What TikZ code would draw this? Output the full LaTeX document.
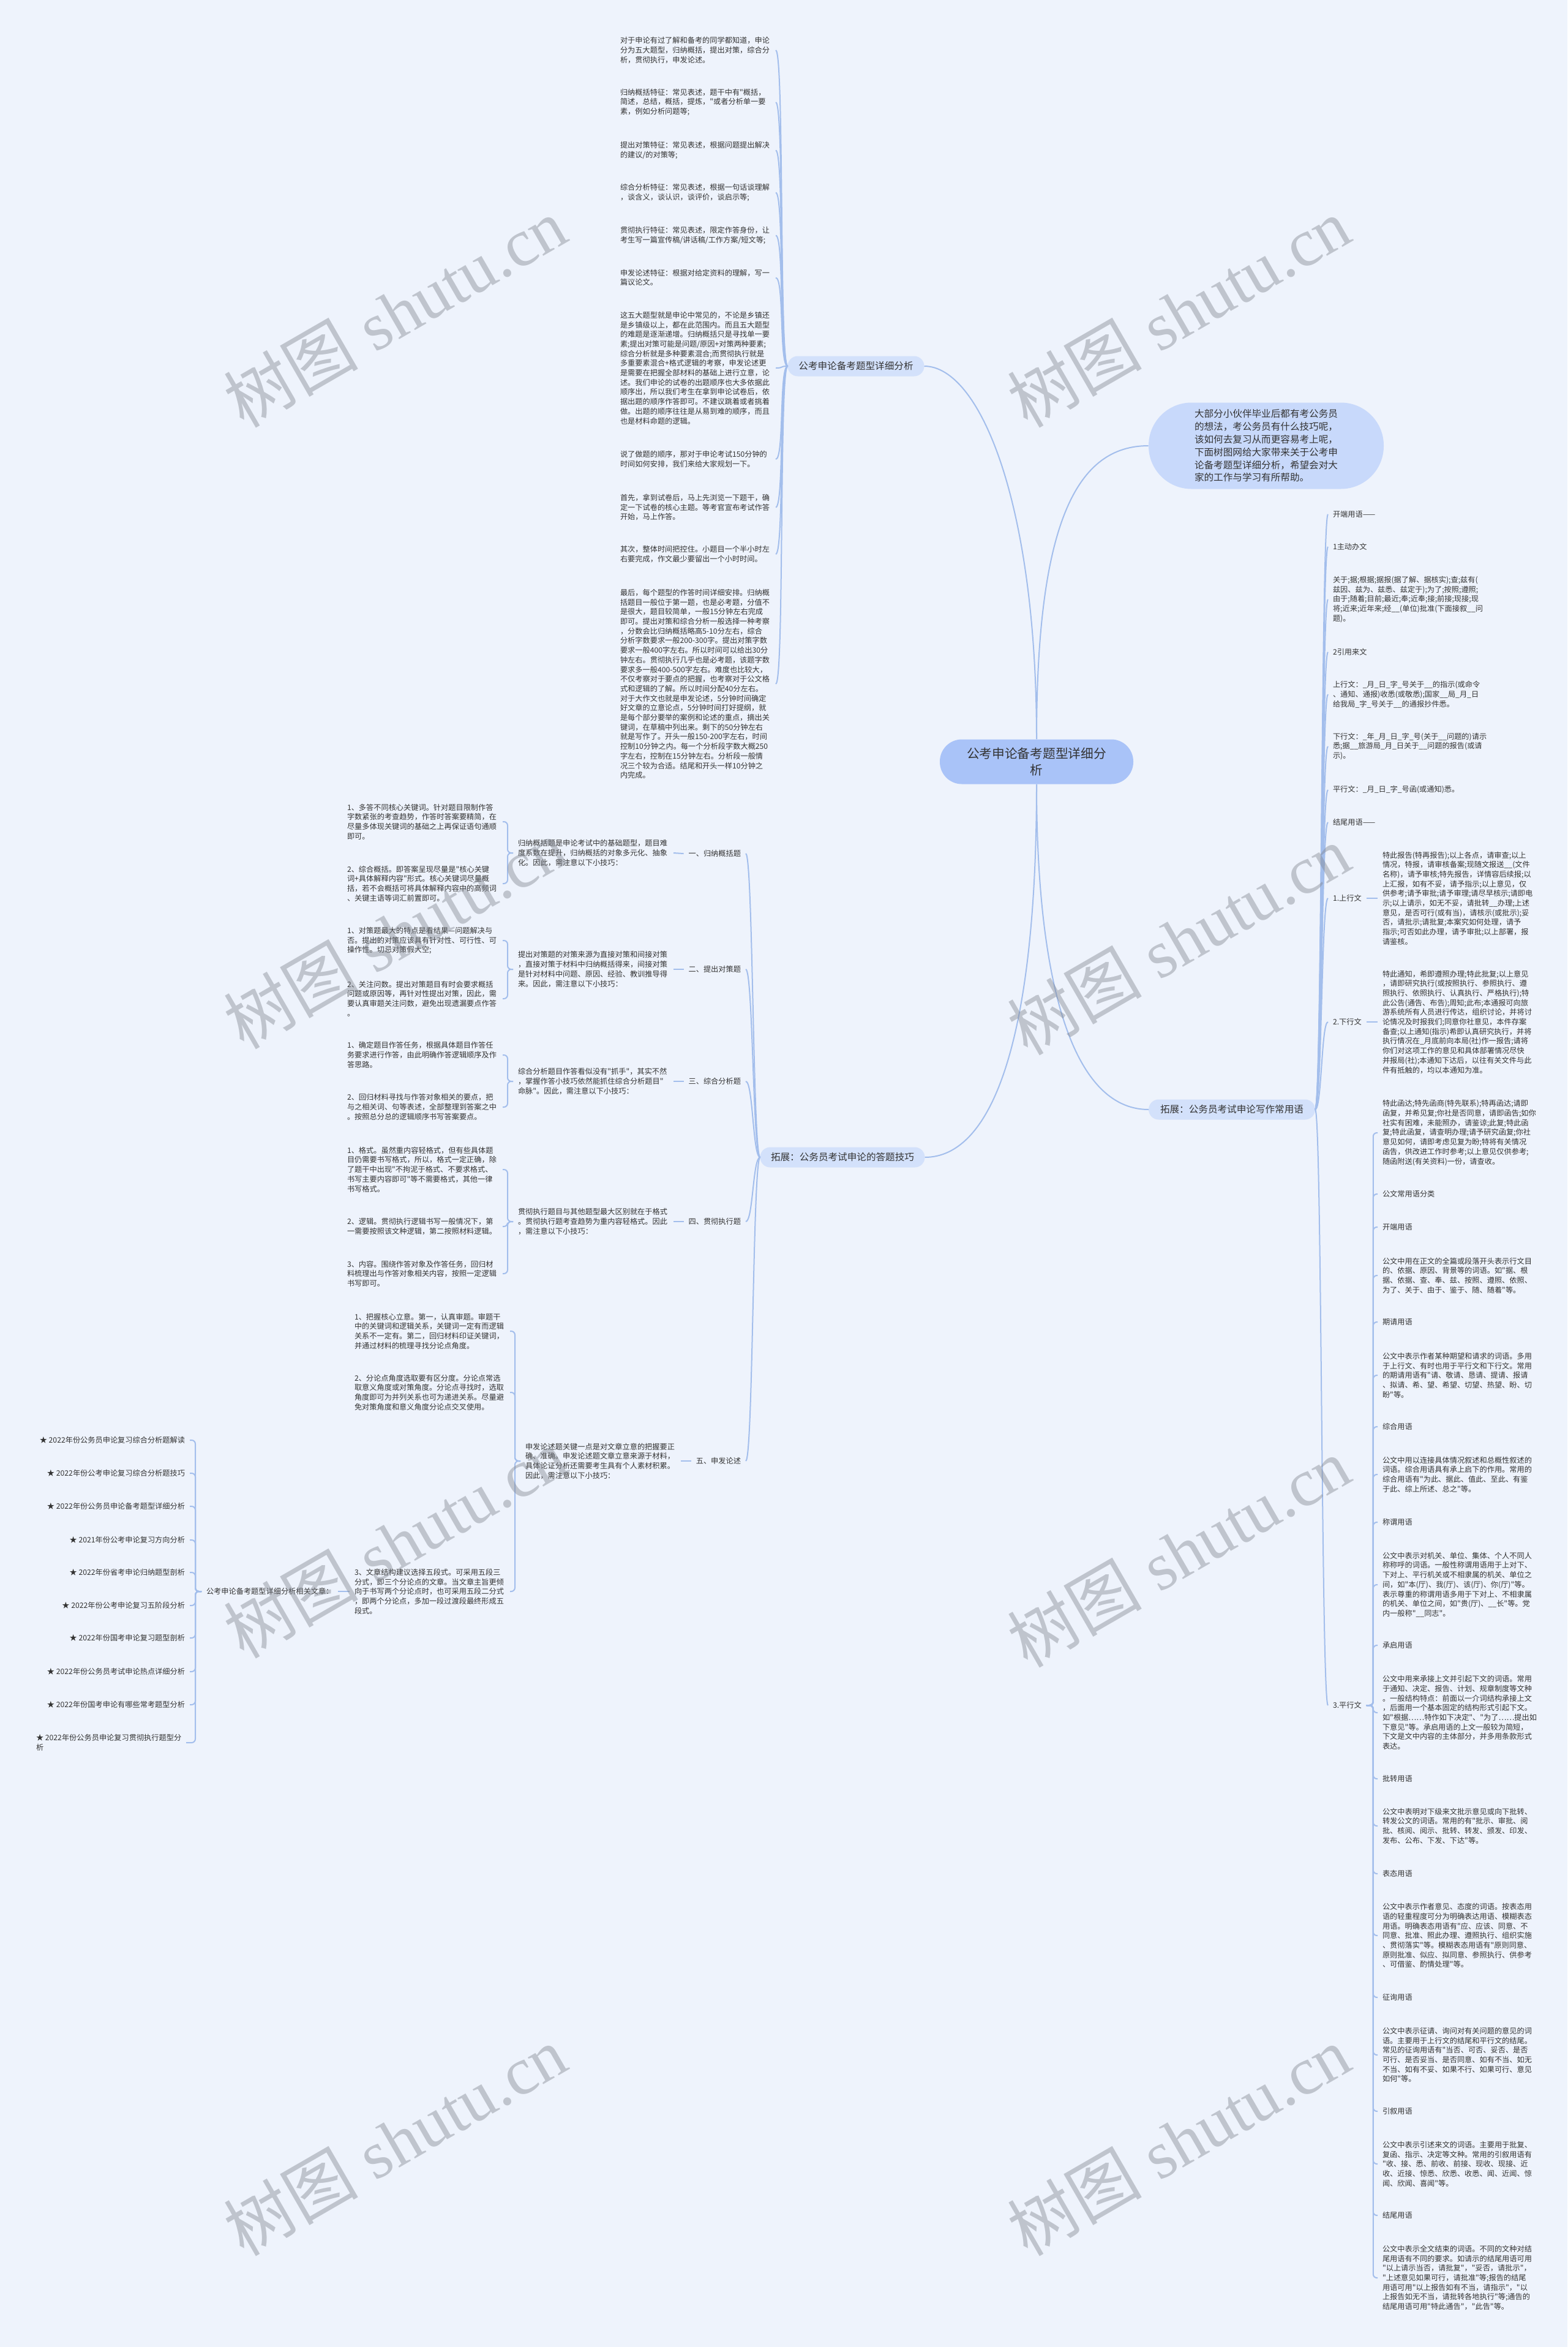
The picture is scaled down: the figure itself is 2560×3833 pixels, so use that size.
\documentclass[tikz,border=0pt]{standalone}
\usepackage{fontspec}
\newfontfamily\cjk{Noto Sans CJK SC}
\newfontfamily\wmserif{Liberation Serif}
\definecolor{bgc}{HTML}{EEF3FC}
\definecolor{linec}{HTML}{A3BEEC}
\definecolor{tc}{HTML}{333333}
\definecolor{rootc}{HTML}{A9C3F8}
\definecolor{introc}{HTML}{C8D9FB}
\definecolor{pillc}{HTML}{D3E1FB}
\definecolor{wmc}{HTML}{7E838D}
\begin{document}
\begin{tikzpicture}[x=0.5pt,y=-0.5pt,
 txt/.style={font=\cjk\fontsize{6.1pt}{7.85pt}\selectfont, text=tc, align=left, inner sep=0pt, outer xsep=4pt, outer ysep=0pt},
 para/.style={txt, text width=123pt},
 lnk/.style={draw=linec, line width=1pt},
 brk/.style={lnk, rounded corners=3pt},
 pill/.style={fill=pillc, rounded corners=8.25pt, font=\cjk\fontsize{7.8pt}{10.4pt}\selectfont, text=tc, inner sep=0pt, minimum height=16.5pt, outer sep=0pt},
 wm/.style={text=wmc, text opacity=0.42, font=\fontsize{55pt}{60pt}\selectfont, rotate=30, inner sep=0pt}]
\path[use as bounding box, fill=bgc] (0,0) rectangle (2560,3833);

% ---------- central and first level ----------
\node[fill=rootc, rounded corners=18pt, minimum width=158pt, minimum height=36.5pt, inner sep=0pt, align=center, text=tc, font=\cjk\fontsize{10.35pt}{13.5pt}\selectfont] (root) at (1693,1244) {公考申论备考题型详细分\\析};
\node[fill=introc, rounded corners=35pt, minimum width=192pt, minimum height=70.5pt, inner sep=0pt, align=left, text=tc, font=\cjk\fontsize{7.8pt}{10.4pt}\selectfont] (intro) at (2068,728) {大部分小伙伴毕业后都有考公务员\\的想法，考公务员有什么技巧呢，\\该如何去复习从而更容易考上呢，\\下面树图网给大家带来关于公考申\\论备考题型详细分析，希望会对大\\家的工作与学习有所帮助。};
\node[pill, minimum width=111.5pt] (pa) at (1398,598) {公考申论备考题型详细分析};
\node[pill, minimum width=136pt] (pb) at (2012,1812) {拓展：公务员考试申论写作常用语};
\node[pill, minimum width=134.5pt] (pc) at (1376,1890) {拓展：公务员考试申论的答题技巧};

% ---------- top column ----------
\node[para, anchor=west] (t1) at (1005,82) {对于申论有过了解和备考的同学都知道，申论\\分为五大题型，归纳概括，提出对策，综合分\\析，贯彻执行，申发论述。};
\node[para, anchor=west] (t2) at (1005,167) {归纳概括特征：常见表述，题干中有"概括，\\简述，总结，概括，提炼，"或者分析单一要\\素，例如分析问题等;};
\node[para, anchor=west] (t3) at (1005,245.5) {提出对策特征：常见表述，根据问题提出解决\\的建议/的对策等;};
\node[para, anchor=west] (t4) at (1005,314.5) {综合分析特征：常见表述，根据一句话谈理解\\，谈含义，谈认识，谈评价，谈启示等;};
\node[para, anchor=west] (t5) at (1005,384.5) {贯彻执行特征：常见表述，限定作答身份，让\\考生写一篇宣传稿/讲话稿/工作方案/短文等;};
\node[para, anchor=west] (t6) at (1005,453.5) {申发论述特征：根据对给定资料的理解，写一\\篇议论文。};
\node[para, anchor=west] (t7) at (1005,601) {这五大题型就是申论中常见的，不论是乡镇还\\是乡镇级以上，都在此范围内。而且五大题型\\的难题是逐渐递增。归纳概括只是寻找单一要\\素;提出对策可能是问题/原因+对策两种要素;\\综合分析就是多种要素混合;而贯彻执行就是\\多重要素混合+格式逻辑的考察，申发论述更\\是需要在把握全部材料的基础上进行立意，论\\述。我们申论的试卷的出题顺序也大多依据此\\顺序出，所以我们考生在拿到申论试卷后，依\\据出题的顺序作答即可。不建议跳着或者挑着\\做。出题的顺序往往是从易到难的顺序，而且\\也是材料命题的逻辑。};
\node[para, anchor=west] (t8) at (1005,750) {说了做题的顺序，那对于申论考试150分钟的\\时间如何安排，我们来给大家规划一下。};
\node[para, anchor=west] (t9) at (1005,828.5) {首先，拿到试卷后，马上先浏览一下题干，确\\定一下试卷的核心主题。等考官宣布考试作答\\开始，马上作答。};
\node[para, anchor=west] (t10) at (1005,905) {其次，整体时间把控住。小题目一个半小时左\\右要完成，作文最少要留出一个小时时间。};
\node[para, anchor=west] (t11) at (1005,1117) {最后，每个题型的作答时间详细安排。归纳概\\括题目一般位于第一题，也是必考题，分值不\\是很大，题目较简单，一般15分钟左右完成\\即可。提出对策和综合分析一般选择一种考察\\，分数会比归纳概括略高5-10分左右，综合\\分析字数要求一般200-300字。提出对策字数\\要求一般400字左右。所以时间可以给出30分\\钟左右。贯彻执行几乎也是必考题，该题字数\\要求多一般400-500字左右。难度也比较大，\\不仅考察对于要点的把握，也考察对于公文格\\式和逻辑的了解。所以时间分配40分左右。\\对于大作文也就是申发论述，5分钟时间确定\\好文章的立意论点，5分钟时间打好提纲，就\\是每个部分要举的案例和论述的重点，摘出关\\键词，在草稿中列出来。剩下的50分钟左右\\就是写作了。开头一般150-200字左右，时间\\控制10分钟之内。每一个分析段字数大概250\\字左右，控制在15分钟左右。分析段一般情\\况三个较为合适。结尾和开头一样10分钟之\\内完成。};

% ---------- right column ----------
\node[txt, anchor=west] (r1) at (2169,840) {开端用语——};
\node[txt, anchor=west] (r2) at (2169,893) {1主动办文};
\node[txt, anchor=west] (r3) at (2169,979) {关于;据;根据;据报(据了解、据核实);查;兹有(\\兹因、兹为、兹悉、兹定于);为了;按照;遵照;\\由于;随着;目前;最近;奉;近奉;接;前接;现接;现\\将;近来;近年来;经\_\_(单位)批准(下面接叙\_\_问\\题)。};
\node[txt, anchor=west] (r4) at (2169,1065) {2引用来文};
\node[txt, anchor=west] (r5) at (2169,1134) {上行文：\_月\_日\_字\_号关于\_\_的指示(或命令\\、通知、通报)收悉(或敬悉);国家\_\_局\_月\_日\\给我局\_字\_号关于\_\_的通报抄件悉。};
\node[txt, anchor=west] (r6) at (2169,1219) {下行文：\_年\_月\_日\_字\_号(关于\_\_问题的)请示\\悉;据\_\_旅游局\_月\_日关于\_\_问题的报告(或请\\示)。};
\node[txt, anchor=west] (r7) at (2169,1290) {平行文：\_月\_日\_字\_号函(或通知)悉。};
\node[txt, anchor=west] (r8) at (2169,1343) {结尾用语——};
\node[txt, anchor=west] (r9) at (2169,1467) {1.上行文};
\node[txt, anchor=west] (r10) at (2169,1669) {2.下行文};
\node[txt, anchor=west] (r11) at (2169,2785) {3.平行文};

\node[txt, anchor=west] (u1) at (2250,1467) {特此报告(特再报告);以上各点，请审查;以上\\情况，特报，请审核备案;现随文报送\_\_(文件\\名称)，请予审核;特先报告，详情容后续报;以\\上汇报，如有不妥，请予指示;以上意见，仅\\供参考;请予审批;请予审理;请尽早核示;请即电\\示;以上请示，如无不妥，请批转\_\_办理;上述\\意见，是否可行(或有当)，请核示(或批示);妥\\否，请批示;请批复;本案究如何处理，请予\\指示;可否如此办理，请予审批;以上部署，报\\请鉴核。};
\node[txt, anchor=west] (u2) at (2250,1669) {特此通知，希即遵照办理;特此批复;以上意见\\，请即研究执行(或按照执行、参照执行、遵\\照执行、依照执行、认真执行、严格执行);特\\此公告(通告、布告);周知;此布;本通报可向旅\\游系统所有人员进行传达，组织讨论，并将讨\\论情况及时报我们;同意你社意见，本件存案\\备查;以上通知(指示)希即认真研究执行，并将\\执行情况在\_月底前向本局(社)作一报告;请将\\你们对这项工作的意见和具体部署情况尽快\\并报局(社);本通知下达后，以往有关文件与此\\件有抵触的，均以本通知为准。};

\node[txt, anchor=west] (p1) at (2250,1850) {特此函达;特先函商(特先联系);特再函达;请即\\函复，并希见复;你社是否同意，请即函告;如你\\社实有困难，未能照办，请鉴谅;此复;特此函\\复;特此函复，请查明办理;请予研究函复;你社\\意见如何，请即考虑见复为盼;特将有关情况\\函告，供改进工作时参考;以上意见仅供参考;\\随函附送(有关资料)一份，请查收。};
\node[txt, anchor=west] (p2) at (2250,1950) {公文常用语分类};
\node[txt, anchor=west] (p3) at (2250,2004) {开端用语};
\node[txt, anchor=west] (p4) at (2250,2083) {公文中用在正文的全篇或段落开头表示行文目\\的、依据、原因、背景等的词语。如"据、根\\据、依据、查、奉、兹、按照、遵照、依照、\\为了、关于、由于、鉴于、随、随着"等。};
\node[txt, anchor=west] (p5) at (2250,2159) {期请用语};
\node[txt, anchor=west] (p6) at (2250,2246) {公文中表示作者某种期望和请求的词语。多用\\于上行文、有时也用于平行文和下行文。常用\\的期请用语有"请、敬请、恳请、提请、报请\\、拟请、希、望、希望、切望、热望、盼、切\\盼"等。};
\node[txt, anchor=west] (p7) at (2250,2330) {综合用语};
\node[txt, anchor=west] (p8) at (2250,2408) {公文中用以连接具体情况叙述和总概性叙述的\\词语。综合用语具有承上启下的作用。常用的\\综合用语有"为此、据此、值此、至此、有鉴\\于此、综上所述、总之"等。};
\node[txt, anchor=west] (p9) at (2250,2486) {称谓用语};
\node[txt, anchor=west] (p10) at (2250,2588) {公文中表示对机关、单位、集体、个人不同人\\称称呼的词语。一般性称谓用语用于上对下、\\下对上、平行机关或不相隶属的机关、单位之\\间，如"本(厅)、我(厅)、该(厅)、你(厅)"等。\\表示尊重的称谓用语多用于下对上、不相隶属\\的机关、单位之间，如"贵(厅)、\_\_长"等。党\\内一般称"\_\_同志"。};
\node[txt, anchor=west] (p11) at (2250,2687) {承启用语};
\node[txt, anchor=west] (p12) at (2250,2797) {公文中用来承接上文并引起下文的词语。常用\\于通知、决定、报告、计划、规章制度等文种\\。一般结构特点：前面以一介词结构承接上文\\，后面用一个基本固定的结构形式引起下文。\\如"根据……特作如下决定"、"为了……提出如\\下意见"等。承启用语的上文一般较为简短，\\下文是文中内容的主体部分，并多用条款形式\\表达。};
\node[txt, anchor=west] (p13) at (2250,2905) {批转用语};
\node[txt, anchor=west] (p14) at (2250,2982) {公文中表明对下级来文批示意见或向下批转、\\转发公文的词语。常用的有"批示、审批、阅\\批、核阅、阅示、批转、转发、颁发、印发、\\发布、公布、下发、下达"等。};
\node[txt, anchor=west] (p15) at (2250,3060) {表态用语};
\node[txt, anchor=west] (p16) at (2250,3161) {公文中表示作者意见、态度的词语。按表态用\\语的轻重程度可分为明确表达用语、模糊表态\\用语。明确表态用语有"应、应该、同意、不\\同意、批准、照此办理、遵照执行、组织实施\\、贯彻落实"等。模糊表态用语有"原则同意、\\原则批准、似应、拟同意、参照执行、供参考\\、可借鉴、酌情处理"等。};
\node[txt, anchor=west] (p17) at (2250,3262) {征询用语};
\node[txt, anchor=west] (p18) at (2250,3356) {公文中表示征请、询问对有关问题的意见的词\\语。主要用于上行文的结尾和平行文的结尾。\\常见的征询用语有"当否、可否、妥否、是否\\可行、是否妥当、是否同意、如有不当、如无\\不当、如有不妥、如果不行、如果可行、意见\\如何"等。};
\node[txt, anchor=west] (p19) at (2250,3448) {引叙用语};
\node[txt, anchor=west] (p20) at (2250,3534) {公文中表示引述来文的词语。主要用于批复、\\复函、指示、决定等文种。常用的引叙用语有\\"收、接、悉、前收、前接、现收、现接、近\\收、近接、惊悉、欣悉、收悉、闻、近闻、惊\\闻、欣闻、喜闻"等。};
\node[txt, anchor=west] (p21) at (2250,3618) {结尾用语};
\node[txt, anchor=west] (p22) at (2250,3720) {公文中表示全文结束的词语。不同的文种对结\\尾用语有不同的要求。如请示的结尾用语可用\\"以上请示当否，请批复"，"妥否，请批示"，\\"上述意见如果可行，请批准"等;报告的结尾\\用语可用"以上报告如有不当，请指示"，"以\\上报告如无不当，请批转各地执行"等;通告的\\结尾用语可用"特此通告"，"此告"等。};

% ---------- left middle branch ----------
\node[txt, anchor=east] (la) at (1218,1394) {一、归纳概括题};
\node[txt, anchor=east] (lb) at (1218,1583) {二、提出对策题};
\node[txt, anchor=east] (lc) at (1218,1766) {三、综合分析题};
\node[txt, anchor=east] (ld) at (1218,1995) {四、贯彻执行题};
\node[txt, anchor=east] (le) at (1218,2386) {五、申发论述};

\node[para, anchor=west] (da) at (838,1393) {归纳概括题是申论考试中的基础题型，题目难\\度系数在提升，归纳概括的对象多元化、抽象\\化。因此，需注意以下小技巧：};
\node[para, anchor=west] (db) at (838,1583) {提出对策题的对策来源为直接对策和间接对策\\，直接对策于材料中归纳概括得来，间接对策\\是针对材料中问题、原因、经验、教训推导得\\来。因此，需注意以下小技巧：};
\node[para, anchor=west] (dc) at (838,1766) {综合分析题目作答看似没有"抓手"，其实不然\\，掌握作答小技巧依然能抓住综合分析题目"\\命脉"。因此，需注意以下小技巧：};
\node[para, anchor=west] (dd) at (838,1995) {贯彻执行题目与其他题型最大区别就在于格式\\。贯彻执行题考查趋势为重内容轻格式。因此\\，需注意以下小技巧：};
\node[para, anchor=west] (de) at (850,2386) {申发论述题关键一点是对文章立意的把握要正\\确、准确。申发论述题文章立意来源于材料，\\具体论证分析还需要考生具有个人素材积累。\\因此，需注意以下小技巧：};

\node[para, anchor=west] (ca1) at (559,1342) {1、多答不同核心关键词。针对题目限制作答\\字数紧张的考查趋势，作答时答案要精简，在\\尽量多体现关键词的基础之上再保证语句通顺\\即可。};
\node[para, anchor=west] (ca2) at (559,1443) {2、综合概括。即答案呈现尽量是"核心关键\\词+具体解释内容"形式。核心关键词尽量概\\括，若不会概括可将具体解释内容中的高频词\\、关键主语等词汇前置即可。};
\node[para, anchor=west] (cb1) at (559,1536) {1、对策题最大的特点是看结果—问题解决与\\否。提出的对策应该具有针对性、可行性、可\\操作性。切忌对策假大空;};
\node[para, anchor=west] (cb2) at (559,1631) {2、关注问数。提出对策题目有时会要求概括\\问题或原因等，再针对性提出对策，因此，需\\要认真审题关注问数，避免出现遗漏要点作答\\。};
\node[para, anchor=west] (cc1) at (559,1723) {1、确定题目作答任务，根据具体题目作答任\\务要求进行作答，由此明确作答逻辑顺序及作\\答思路。};
\node[para, anchor=west] (cc2) at (559,1808) {2、回归材料寻找与作答对象相关的要点，把\\与之相关词、句等表述，全部整理到答案之中\\。按照总分总的逻辑顺序书写答案要点。};
\node[para, anchor=west] (cd1) at (559,1910) {1、格式。虽然重内容轻格式，但有些具体题\\目仍需要书写格式，所以，格式一定正确，除\\了题干中出现"不拘泥于格式、不要求格式、\\书写主要内容即可"等不需要格式，其他一律\\书写格式。};
\node[para, anchor=west] (cd2) at (559,2003) {2、逻辑。贯彻执行逻辑书写一般情况下，第\\一需要按照该文种逻辑，第二按照材料逻辑。};
\node[para, anchor=west] (cd3) at (559,2080) {3、内容。围绕作答对象及作答任务，回归材\\料梳理出与作答对象相关内容，按照一定逻辑\\书写即可。};
\node[para, anchor=west] (ce1) at (571,2174) {1、把握核心立意。第一，认真审题。审题干\\中的关键词和逻辑关系，关键词一定有而逻辑\\关系不一定有。第二，回归材料印证关键词，\\并通过材料的梳理寻找分论点角度。};
\node[para, anchor=west] (ce2) at (571,2274) {2、分论点角度选取要有区分度。分论点常选\\取意义角度或对策角度。分论点寻找时，选取\\角度即可为并列关系也可为递进关系。尽量避\\免对策角度和意义角度分论点交叉使用。};
\node[para, anchor=west] (ce3) at (571,2599) {3、文章结构建议选择五段式。可采用五段三\\分式，即三个分论点的文章。当文章主旨更倾\\向于书写两个分论点时，也可采用五段二分式\\，即两个分论点，多加一段过渡段最终形成五\\段式。};

\node[txt, anchor=west] (rel) at (329,2599) {公考申论备考题型详细分析相关文章：};
\node[txt, anchor=east] (s1) at (310,2352) {★ 2022年份公务员申论复习综合分析题解读};
\node[txt, anchor=east] (s2) at (310,2406) {★ 2022年份公考申论复习综合分析题技巧};
\node[txt, anchor=east] (s3) at (310,2460) {★ 2022年份公务员申论备考题型详细分析};
\node[txt, anchor=east] (s4) at (310,2515) {★ 2021年份公考申论复习方向分析};
\node[txt, anchor=east] (s5) at (310,2568) {★ 2022年份省考申论归纳题型剖析};
\node[txt, anchor=east] (s6) at (310,2622) {★ 2022年份公考申论复习五阶段分析};
\node[txt, anchor=east] (s7) at (310,2675) {★ 2022年份国考申论复习题型剖析};
\node[txt, anchor=east] (s8) at (310,2730) {★ 2022年份公务员考试申论热点详细分析};
\node[txt, anchor=east] (s9) at (310,2784) {★ 2022年份国考申论有哪些常考题型分析};
\node[txt, anchor=west] (s10) at (51,2846) {★ 2022年份公务员申论复习贯彻执行题型分\\析};

% ---------- connectors ----------
\draw[lnk] (root.north) .. controls (1693,820) and (1600,598) .. (pa.east);
\draw[lnk] (root.north) .. controls (1693,850) and (1760,728) .. (intro.west);
\draw[lnk] (root.south) .. controls (1693,1600) and (1750,1812) .. (pb.west);
\draw[lnk] (root.south) .. controls (1693,1700) and (1620,1890) .. (pc.east);

\foreach \n in {t1,t2,t3,t4,t5,t6,t7,t8,t9,t10,t11}
  \draw[lnk] (pa.west) .. controls +(-14,0) and +(14,0) .. (\n.east);
\foreach \n in {r1,r2,r3,r4,r5,r6,r7,r8,r9,r10,r11}
  \draw[lnk] (pb.east) .. controls +(11,0) and +(-11,0) .. (\n.west);
\draw[lnk] (r9.east) -- (u1.west);
\draw[lnk] (r10.east) -- (u2.west);
\foreach \n in {p1,p2,p3,p4,p5,p6,p7,p8,p9,p10,p11,p12,p13,p14,p15,p16,p17,p18,p19,p20,p21,p22}
  \draw[brk] (r11.east) -- ++(11,0) |- (\n.west);

\foreach \n in {la,lb,lc,ld,le}
  \draw[lnk] (pc.west) .. controls +(-12,0) and +(12,0) .. (\n.east);
\draw[lnk] (la.west) -- (da.east);
\draw[lnk] (lb.west) -- (db.east);
\draw[lnk] (lc.west) -- (dc.east);
\draw[lnk] (ld.west) -- (dd.east);
\draw[lnk] (le.west) -- (de.east);
\foreach \n in {ca1,ca2} \draw[brk] (da.west) -- ++(-9,0) |- (\n.east);
\foreach \n in {cb1,cb2} \draw[brk] (db.west) -- ++(-9,0) |- (\n.east);
\foreach \n in {cc1,cc2} \draw[brk] (dc.west) -- ++(-9,0) |- (\n.east);
\foreach \n in {cd1,cd2,cd3} \draw[brk] (dd.west) -- ++(-9,0) |- (\n.east);
\foreach \n in {ce1,ce2,ce3} \draw[brk] (de.west) -- ++(-9,0) |- (\n.east);
\draw[lnk] (ce3.west) -- (rel.east);
\foreach \n in {s1,s2,s3,s4,s5,s6,s7,s8,s9,s10}
  \draw[brk] (rel.west) -- ++(-10,0) |- (\n.east);

% ---------- watermarks ----------
\node[wm] (wm1) at (645,510) {{\cjk 树图}\hspace{0.25em}{\wmserif shutu.cn}};
\node[wm] (wm2) at (1925,510) {{\cjk 树图}\hspace{0.25em}{\wmserif shutu.cn}};
\node[wm] (wm3) at (645,1525) {{\cjk 树图}\hspace{0.25em}{\wmserif shutu.cn}};
\node[wm] (wm4) at (1925,1535) {{\cjk 树图}\hspace{0.25em}{\wmserif shutu.cn}};
\node[wm] (wm5) at (645,2520) {{\cjk 树图}\hspace{0.25em}{\wmserif shutu.cn}};
\node[wm] (wm6) at (1925,2535) {{\cjk 树图}\hspace{0.25em}{\wmserif shutu.cn}};
\node[wm] (wm7) at (645,3496) {{\cjk 树图}\hspace{0.25em}{\wmserif shutu.cn}};
\node[wm] (wm8) at (1925,3496) {{\cjk 树图}\hspace{0.25em}{\wmserif shutu.cn}};
\end{tikzpicture}
\end{document}
